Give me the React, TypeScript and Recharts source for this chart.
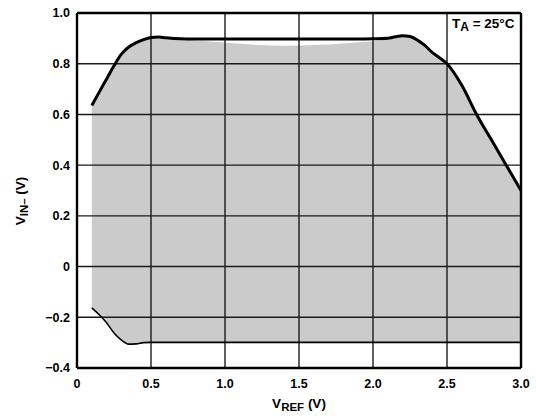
import React from 'react';
import { ComposedChart, Area, Line, XAxis, YAxis, ReferenceLine, Customized } from 'recharts';

const vref = [0.1, 0.15, 0.2, 0.25, 0.3, 0.35, 0.4, 0.45, 0.5, 0.55, 0.6, 0.7, 0.8, 1.0, 1.2, 1.4, 1.6, 1.8, 1.9, 2.0, 2.1, 2.15, 2.2, 2.25, 2.3, 2.35, 2.4, 2.45, 2.5, 2.6, 2.7, 2.8, 2.9, 3.0];
const vinUpper = [0.635, 0.688, 0.74, 0.792, 0.838, 0.866, 0.883, 0.895, 0.903, 0.905, 0.902, 0.898, 0.897, 0.897, 0.897, 0.897, 0.897, 0.897, 0.897, 0.898, 0.9, 0.906, 0.91, 0.907, 0.893, 0.872, 0.845, 0.823, 0.8, 0.715, 0.6, 0.5, 0.4, 0.3];
const grayTop = [0.635, 0.688, 0.74, 0.792, 0.838, 0.866, 0.883, 0.895, 0.903, 0.905, 0.9, 0.896, 0.892, 0.884, 0.875, 0.871, 0.874, 0.88, 0.885, 0.889, 0.897, 0.906, 0.91, 0.907, 0.893, 0.872, 0.845, 0.823, 0.8, 0.715, 0.6, 0.5, 0.4, 0.3];
const vinLower = [-0.163, -0.19, -0.222, -0.262, -0.29, -0.306, -0.305, -0.3, -0.299, -0.299, -0.299, -0.299, -0.299, -0.299, -0.299, -0.299, -0.299, -0.299, -0.299, -0.299, -0.299, -0.299, -0.299, -0.299, -0.299, -0.299, -0.299, -0.299, -0.299, -0.299, -0.299, -0.299, -0.299, -0.299];
const xTicks = [0, 0.5, 1.0, 1.5, 2.0, 2.5, 3.0];
const yTicks = [-0.4, -0.2, 0, 0.2, 0.4, 0.6, 0.8, 1.0];
const xGrid = [0.5, 1.0, 1.5, 2.0, 2.5];
const yGrid = [-0.2, 0, 0.2, 0.4, 0.6, 0.8];

const data = vref.map((x, i) => ({
  x,
  upper: vinUpper[i],
  lower: vinLower[i],
  range: [vinLower[i], grayTop[i]],
}));

const FONT = '"Liberation Sans", Arial, sans-serif';

const fmtX = (v: number) => (v === 0 ? '0' : v.toFixed(1));
const fmtY = (v: number) => {
  if (Math.abs(v) < 1e-9) return '0';
  return v < 0 ? '\u2212' + Math.abs(v).toFixed(1) : v.toFixed(1);
};

const Texts = () => (
  <g fontFamily={FONT} fontWeight="bold" fill="#000">
    <text transform="translate(25,201) rotate(-90)" textAnchor="middle" fontSize={13.5}>
      <tspan>V</tspan>
      <tspan dy={3} fontSize={11.5}>IN–</tspan>
      <tspan dy={-3}> (V)</tspan>
    </text>
    <text x={299} y={408} textAnchor="middle" fontSize={13.5}>
      <tspan>V</tspan>
      <tspan dy={3} fontSize={11.5}>REF</tspan>
      <tspan dy={-3}> (V)</tspan>
    </text>
    <text x={452} y={28} fontSize={13.5}>
      <tspan>T</tspan>
      <tspan dy={3} fontSize={12}>A</tspan>
      <tspan dy={-3}> = 25°C</tspan>
    </text>
  </g>
);

export default function App() {
  return (
    <div style={{ position: 'absolute', left: 0, top: 0, background: '#fff' }}>
      <ComposedChart width={536} height={416} data={data} margin={{ top: 13, right: 15, bottom: 0, left: 0 }}>
        <XAxis
          dataKey="x"
          type="number"
          domain={[0, 3]}
          ticks={xTicks}
          tickFormatter={fmtX}
          height={48}
          tickSize={0}
          tickMargin={11}
          axisLine={{ stroke: '#000', strokeWidth: 2.4 }}
          tick={{ fontSize: 12.5, fontWeight: 'bold', fill: '#000', fontFamily: FONT }}
          interval={0}
        />
        <YAxis
          type="number"
          domain={[-0.4, 1.0]}
          ticks={yTicks}
          tickFormatter={fmtY}
          width={77}
          tickSize={0}
          tickMargin={7}
          axisLine={{ stroke: '#000', strokeWidth: 2.4 }}
          tick={{ fontSize: 12.5, fontWeight: 'bold', fill: '#000', fontFamily: FONT }}
          interval={0}
        />
        <Area
          type="monotone"
          dataKey="range"
          fill="#cbcbcb"
          fillOpacity={1}
          stroke="none"
          isAnimationActive={false}
          dot={false}
          activeDot={false}
        />
        {xGrid.map((v) => (
          <ReferenceLine key={'x' + v} x={v} stroke="#1a1a1a" strokeWidth={1.4} />
        ))}
        {yGrid.map((v) => (
          <ReferenceLine key={'y' + v} y={v} stroke="#1a1a1a" strokeWidth={1.4} />
        ))}
        <ReferenceLine y={1.0} stroke="#000" strokeWidth={2.4} />
        <ReferenceLine x={3.0} stroke="#000" strokeWidth={2.4} />
        <Line type="monotone" dataKey="lower" stroke="#000" strokeWidth={1.6} dot={false} activeDot={false} isAnimationActive={false} />
        <Line type="monotone" dataKey="upper" stroke="#000" strokeWidth={3} dot={false} activeDot={false} isAnimationActive={false} />
        <Customized component={Texts} />
      </ComposedChart>
    </div>
  );
}
